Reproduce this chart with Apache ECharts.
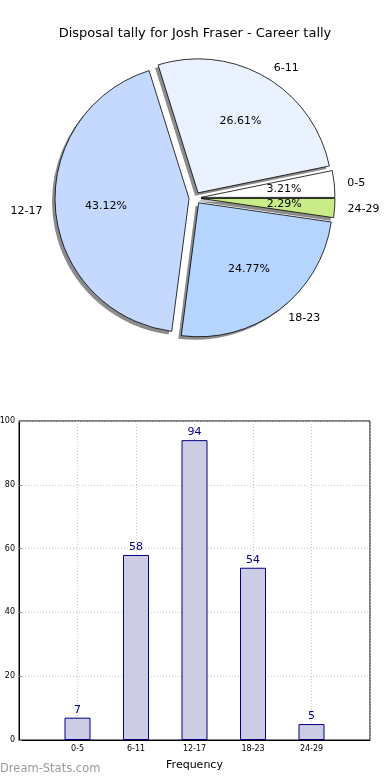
<!DOCTYPE html>
<html><head><meta charset="utf-8">
<script src="https://cdn.jsdelivr.net/npm/echarts@6/dist/echarts.min.js"></script>
<style>html,body{margin:0;padding:0;background:#fff}#c{width:390px;height:780px}</style>
</head><body><div id="c"></div>
<script>
const titleText = 'Disposal tally for Josh Fraser - Career tally';
const categories = ['0-5', '6-11', '12-17', '18-23', '24-29'];
const counts = [7, 58, 94, 54, 5];
const sliceColors = ['#ffffff', '#eaf2ff', '#c5d9ff', '#b5d5ff', '#c9ec88'];
const yTickMin = 0, yTickMax = 100, yTickStep = 20;
const xAxisName = 'Frequency';
const watermark = 'Dream-Stats.com';

const FONT = 'DejaVu Sans';
const PIE_C = [195, 198];
const PIE_R = 134;
const pieCommon = {
  type: 'pie', startAngle: 0, clockwise: false,
  selectedMode: 'multiple', selectedOffset: 6, avoidLabelOverlap: false,
  emphasis: { disabled: true }, animation: false, percentPrecision: 2
};
function pieItems(colorFn) {
  return categories.map((c, i) => ({
    name: c, value: counts[i], selected: true,
    itemStyle: { color: colorFn(i) }
  }));
}

const chart = echarts.init(document.getElementById('c'), null, { renderer: 'canvas' });
chart.setOption({
  animation: false,
  backgroundColor: '#fff',
  title: {
    text: titleText, left: 'center', top: 22,
    textStyle: { fontSize: 13, fontWeight: 'normal', fontFamily: FONT, color: '#000' }
  },
  grid: {
    left: 19, right: 20, top: 421, bottom: 40, show: true,
    borderColor: '#000', borderWidth: 1, containLabel: false, outerBoundsMode: 'none'
  },
  xAxis: {
    type: 'category', data: [''].concat(categories, ['']), boundaryGap: false,
    axisLine: { lineStyle: { color: '#000' } },
    axisTick: { show: false },
    axisLabel: { interval: 0, fontSize: 8, color: '#000', fontFamily: FONT, margin: 5 },
    splitLine: { show: true, lineStyle: { type: [1, 2], color: '#c4c4c4' } },
    name: xAxisName, nameLocation: 'middle', nameGap: 20,
    nameTextStyle: { fontSize: 11, color: '#000', fontFamily: FONT }
  },
  yAxis: {
    type: 'value', min: yTickMin, max: yTickMax, interval: yTickStep,
    axisLine: { show: true, lineStyle: { color: '#000' } },
    axisTick: { show: true, inside: true, length: 3, lineStyle: { color: '#888' } },
    axisLabel: { fontSize: 8, color: '#000', fontFamily: FONT, margin: 4 },
    splitLine: { show: true, lineStyle: { type: [1, 2], color: '#c4c4c4' } }
  },
  graphic: [{
    type: 'text', left: 0, top: 763,
    style: { text: watermark, fill: '#9a9a9a', font: '11.5px "DejaVu Sans"' }
  }],
  series: [
    // shadow copy, shifted down-left
    Object.assign({}, pieCommon, {
      center: [PIE_C[0] - 3, PIE_C[1] + 3], radius: [0, PIE_R], silent: true, z: 1,
      itemStyle: { borderWidth: 0 },
      label: { show: false }, labelLine: { show: false },
      data: pieItems(() => '#8c8c8c')
    }),
    Object.assign({}, pieCommon, {
      center: PIE_C, radius: [0, PIE_R], z: 2,
      itemStyle: { borderColor: '#000', borderWidth: 0.8 },
      label: { show: true, position: 'outside', color: '#000', fontSize: 11, fontFamily: FONT, distanceToLabelLine: 2 },
      labelLine: { show: false, length: 11, length2: 0 },
      data: pieItems(i => sliceColors[i])
    }),
    Object.assign({}, pieCommon, {
      center: PIE_C, radius: [PIE_R * 0.2, PIE_R], silent: true, z: 3,
      itemStyle: { borderWidth: 0 },
      label: { show: true, position: 'inside', formatter: '{d}%', color: '#000', fontSize: 11, fontFamily: FONT },
      labelLine: { show: false },
      data: pieItems(() => 'rgba(0,0,0,0)')
    }),
    {
      type: 'bar', data: ['-'].concat(counts, ['-']), barWidth: 26,
      itemStyle: { color: '#ccccE4', borderColor: '#000080', borderWidth: 1 },
      label: { show: true, position: 'top', distance: 2, color: '#00008b', fontSize: 11, fontFamily: FONT },
      emphasis: { disabled: true }
    }
  ]
});
</script></body></html>
